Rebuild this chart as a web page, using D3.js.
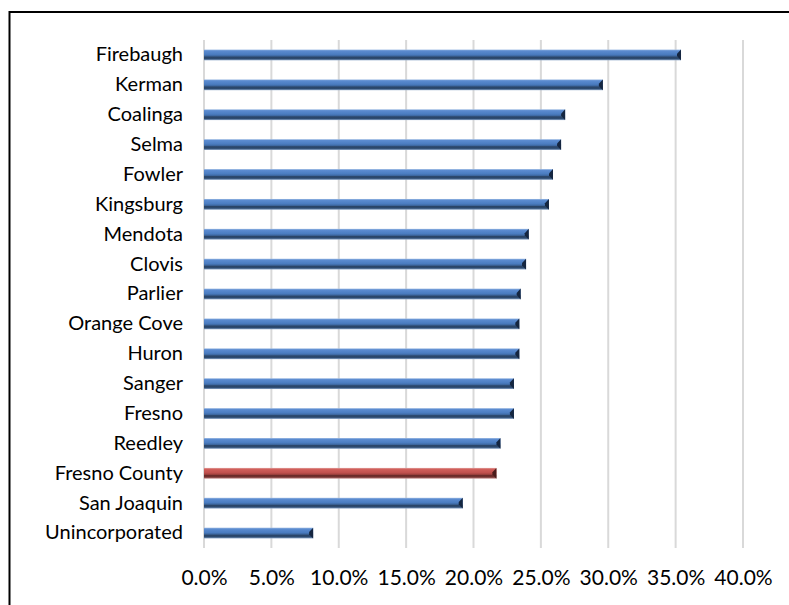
<!DOCTYPE html>
<html>
<head>
<meta charset="utf-8">
<script src="https://cdn.jsdelivr.net/npm/d3@7"></script>
<style>
  body { margin: 0; background: #fff; }
  svg { display: block; }
  .tick text { font-family: Lato, "Open Sans", sans-serif; }
</style>
</head>
<body>
<div id="chart-area"></div>
<script>
// data
const places = ["Firebaugh", "Kerman", "Coalinga", "Selma", "Fowler", "Kingsburg", "Mendota",
  "Clovis", "Parlier", "Orange Cove", "Huron", "Sanger", "Fresno", "Reedley",
  "Fresno County", "San Joaquin", "Unincorporated"]
const shares = [0.354, 0.296, 0.268, 0.265, 0.259, 0.256, 0.241, 0.239, 0.235, 0.234,
  0.234, 0.230, 0.230, 0.220, 0.217, 0.192, 0.081]
const highlight = ["Fresno County"]
const xTicks = [0, 0.05, 0.10, 0.15, 0.20, 0.25, 0.30, 0.35, 0.40]

const data = places.map((p, i) => ({ place: p, value: shares[i] }))

const W = 789, H = 605
const MARGIN = { LEFT: 204, RIGHT: 46, TOP: 40, BOTTOM: 57 }
const WIDTH = W - MARGIN.LEFT - MARGIN.RIGHT
const HEIGHT = H - MARGIN.TOP - MARGIN.BOTTOM

const svg = d3.select("#chart-area").append("svg")
  .attr("width", W)
  .attr("height", H)

// gradients for the bevelled bars
const defs = svg.append("defs")
function barGradient(id, stops) {
  const gr = defs.append("linearGradient")
    .attr("id", id)
    .attr("x1", 0).attr("y1", 0).attr("x2", 0).attr("y2", 1)
  stops.forEach(s => gr.append("stop").attr("offset", s[0]).attr("stop-color", s[1]))
}
barGradient("blueBar", [[0, "#9dbbe3"], [0.12, "#5b8bd0"], [0.45, "#4a7cc0"], [0.6, "#3d679f"],
  [0.7, "#2a4466"], [0.85, "#2c4a70"], [1, "#8aa4c6"]])
barGradient("redBar", [[0, "#e3a3a1"], [0.12, "#d05f5b"], [0.45, "#c0504d"], [0.6, "#a1423f"],
  [0.7, "#6a2b29"], [0.85, "#72302e"], [1, "#c99694"]])

// outer frame (runs off the right and bottom)
svg.append("rect")
  .attr("x", 9.5).attr("y", 12)
  .attr("width", W + 20).attr("height", H + 20)
  .attr("fill", "none")
  .attr("stroke", "#000")
  .attr("stroke-width", 2)

const g = svg.append("g")
  .attr("transform", `translate(${MARGIN.LEFT}, ${MARGIN.TOP})`)

const x = d3.scaleLinear().domain([0, 0.40]).range([0, WIDTH])
const y = d3.scaleBand().domain(places).range([0, HEIGHT]).paddingInner(0.64).paddingOuter(0.32)

// vertical gridlines
g.selectAll(".grid")
  .data(xTicks)
  .enter().append("line")
  .attr("class", "grid")
  .attr("x1", d => x(d)).attr("x2", d => x(d))
  .attr("y1", 0).attr("y2", HEIGHT)
  .attr("stroke", "#d9d9d9")
  .attr("stroke-width", 2)

// x axis labels
const xAxis = g.append("g")
  .attr("transform", `translate(0, ${HEIGHT})`)
  .call(d3.axisBottom(x).tickValues(xTicks).tickFormat(d3.format(".1%")).tickSize(0).tickPadding(22))
xAxis.select(".domain").remove()
xAxis.selectAll("text").attr("font-size", 21).attr("fill", "#000")

// y axis labels
const yAxis = g.append("g")
  .call(d3.axisLeft(y).tickSize(0).tickPadding(21))
yAxis.select(".domain").remove()
yAxis.selectAll("text").attr("font-size", 20).attr("fill", "#000")

// bars
const bars = g.selectAll(".bar")
  .data(data)
  .enter().append("g")
  .attr("class", "bar")
  .attr("transform", d => `translate(0, ${y(d.place)})`)

bars.append("rect")
  .attr("x", 0)
  .attr("y", 0)
  .attr("width", d => x(d.value))
  .attr("height", y.bandwidth())
  .attr("fill", d => highlight.includes(d.place) ? "url(#redBar)" : "url(#blueBar)")

// dark bevel at the bar end
bars.append("path")
  .attr("d", d => {
    const e = x(d.value), h = y.bandwidth()
    return `M${e},0 L${e},${h} L${e - 4},${h * 0.6} L${e - 4},${h * 0.4} Z`
  })
  .attr("fill", d => highlight.includes(d.place) ? "#4a1c1b" : "#152640")
</script>
</body>
</html>
